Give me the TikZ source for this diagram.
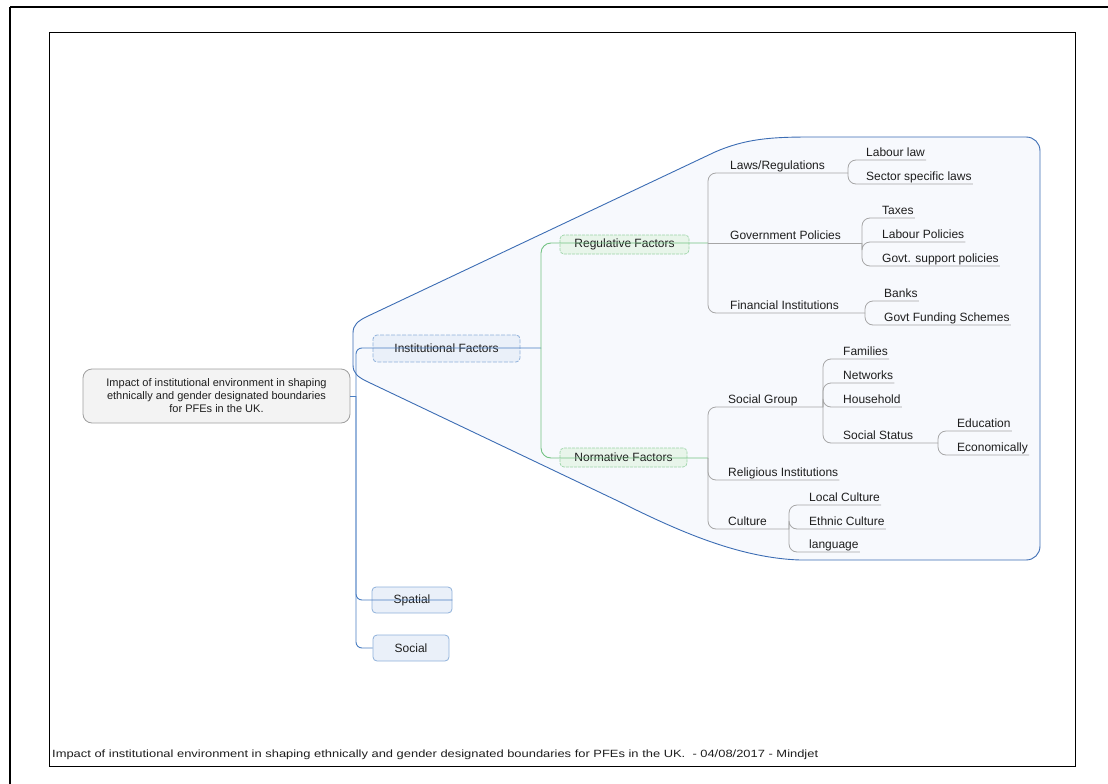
\documentclass[tikz,border=0pt]{standalone}
\usepackage{fontspec}
\setmainfont{Liberation Sans}
\usepackage{graphicx}
\definecolor{bl}{HTML}{4A7EC2}
\definecolor{bnd}{HTML}{3C6DB4}
\definecolor{bndfill}{HTML}{F7F9FD}
\definecolor{gr}{HTML}{72C282}
\definecolor{grfill}{HTML}{E8F5EA}
\definecolor{gy}{HTML}{A6A6A6}
\definecolor{bfill}{HTML}{EAF0F9}
\definecolor{bbord}{HTML}{8FB1DA}
\definecolor{txt}{HTML}{1E1E1E}
\definecolor{rootfill}{HTML}{F3F3F3}
\newcommand\tfont{\fontsize{12}{14}\selectfont}
\tikzset{
  topic/.style={anchor=south west, inner xsep=1pt, inner ysep=0pt, text depth=3pt, font=\tfont, text=txt},
  gline/.style={draw=gy, line width=0.8pt, rounded corners=8pt},
  greenline/.style={draw=gr, line width=0.9pt, rounded corners=10pt},
  blueline/.style={draw=bl, line width=0.9pt, rounded corners=6pt},
  bluebox/.style={draw=bbord, fill=bfill, rounded corners=4pt, line width=0.8pt, text=txt, font=\tfont, inner sep=0pt},
  greenbox/.style={draw=gr!70, fill=grfill, rounded corners=4pt, line width=0.7pt, dash pattern=on 3pt off 1pt, text=txt, font=\tfont, inner sep=0pt},
  rootbox/.style={draw=gray!75, fill=rootfill, rounded corners=9pt, line width=0.8pt, text=txt, align=center, font=\fontsize{11}{13}\selectfont, inner sep=0pt},
  boundary/.style={draw=bnd, fill=bndfill, line width=0.9pt}
}
\begin{document}
\begin{tikzpicture}[x=1pt,y=-1pt]
\useasboundingbox (0,0) rectangle (1108,784);
% frames
\draw[line width=1.6pt] (10,7) -- (1115,7);
\draw[line width=1.6pt] (10,7) -- (10,790);
\draw[line width=0.8pt] (49,32) rectangle (1075,766);
% boundary
\draw[boundary] (353,365) -- (353,333) .. controls (353,325) and (358,321) .. (366,317)
  -- (715,152) .. controls (745,139) and (770,137) .. (810,137)
  -- (1026,137) .. controls (1034,137) and (1040,143) .. (1040,151)
  -- (1040,546) .. controls (1040,554) and (1034,560) .. (1026,560)
  -- (800,560) .. controls (740,558) and (680,532) .. (620,502)
  -- (366,381) .. controls (358,377) and (353,373) .. (353,365) -- cycle;
% boxes
\node[rootbox, minimum width=267pt, minimum height=54pt] (root) at (216.5,396)
  {Impact of institutional environment in shaping\\ethnically and gender designated boundaries\\for PFEs in the UK.};
\node[bluebox, dash pattern=on 4pt off 1.5pt, minimum width=147pt, minimum height=27pt] (inst) at (446.5,348.5) {Institutional Factors};
\node[greenbox, minimum width=129pt, minimum height=19pt] (reg) at (624.5,244.5) {Regulative Factors};
\node[greenbox, minimum width=127pt, minimum height=19pt] (nor) at (623.5,457.5) {Normative Factors};
\node[bluebox, minimum width=80pt, minimum height=26pt] (spat) at (412,600) {Spatial};
\node[bluebox, minimum width=76pt, minimum height=26pt] (soc) at (411,648) {Social};
% topics - regulative
\node[topic] (lr) at (729,173) {Laws/Regulations};
\node[topic] (ll) at (865,160) {Labour law};
\node[topic] (ssl) at (865,184) {Sector specific laws};
\node[topic] (gp) at (729,243) {Government Policies};
\node[topic] (tax) at (881,218) {Taxes};
\node[topic] (lp) at (881,242) {Labour Policies};
\node[topic] (gsp) at (881,266) {Govt. support policies};
\node[topic] (fi) at (729,313) {Financial Institutions};
\node[topic] (bk) at (883,301) {Banks};
\node[topic] (gfs) at (883,325) {Govt Funding Schemes};
% topics - normative
\node[topic] (sg) at (727,407) {Social Group};
\node[topic] (fam) at (842,359) {Families};
\node[topic] (net) at (842,383) {Networks};
\node[topic] (hh) at (842,407) {Household};
\node[topic] (ss) at (842,443) {Social Status};
\node[topic] (edu) at (956,431) {Education};
\node[topic] (eco) at (956,455) {Economically};
\node[topic] (ri) at (727,480) {Religious Institutions};
\node[topic] (cu) at (727,529) {Culture};
\node[topic] (lc) at (808,505) {Local Culture};
\node[topic] (ec) at (808,529) {Ethnic Culture};
\node[topic] (lang) at (808,552) {language};
% junctions
\coordinate (trunk) at (356,396);
\coordinate (instj) at (541,348);
\coordinate (regj) at (708,243);
\coordinate (norj) at (708,458);
\coordinate (lrj) at (848,173);
\coordinate (gpj) at (862,243);
\coordinate (fij) at (865,313);
\coordinate (sgj) at (823,407);
\coordinate (ssj) at (938,443);
\coordinate (cuj) at (789,529);
% blue connectors
\draw[blueline] (root.east) -- (trunk);
\draw[blueline] (trunk) |- (instj);
\draw[blueline] (trunk) |- (spat.east);
\draw[blueline] (trunk) |- (soc.west);
% green connectors
\draw[greenline] (instj) |- (regj);
\draw[greenline] (instj) |- (norj);
% grey connectors
\draw[gline] (regj) |- (lrj);
\draw[gline] (regj) -- (gpj);
\draw[gline] (regj) |- (fij);
\draw[gline] (lrj) |- (ll.south east);
\draw[gline] (lrj) |- (ssl.south east);
\draw[gline] (gpj) |- (tax.south east);
\draw[gline] (gpj) |- (lp.south east);
\draw[gline] (gpj) |- (gsp.south east);
\draw[gline] (fij) |- (bk.south east);
\draw[gline] (fij) |- (gfs.south east);
\draw[gline] (norj) |- (sgj);
\draw[gline] (norj) |- (ri.south east);
\draw[gline] (norj) |- (cuj);
\draw[gline] (sgj) |- (fam.south east);
\draw[gline] (sgj) |- (net.south east);
\draw[gline] (sgj) |- (hh.south east);
\draw[gline] (sgj) |- (ssj);
\draw[gline] (ssj) |- (edu.south east);
\draw[gline] (ssj) |- (eco.south east);
\draw[gline] (cuj) |- (lc.south east);
\draw[gline] (cuj) |- (ec.south east);
\draw[gline] (cuj) |- (lang.south east);
% footer
\node[anchor=base west, inner sep=0pt, text=txt, font=\fontsize{10.5}{12}\selectfont] (foot) at (52,757)
  {\resizebox{766pt}{\height}{Impact of institutional environment in shaping ethnically and gender designated boundaries for PFEs in the UK. \ - 04/08/2017 - Mindjet}};
\end{tikzpicture}
\end{document}
